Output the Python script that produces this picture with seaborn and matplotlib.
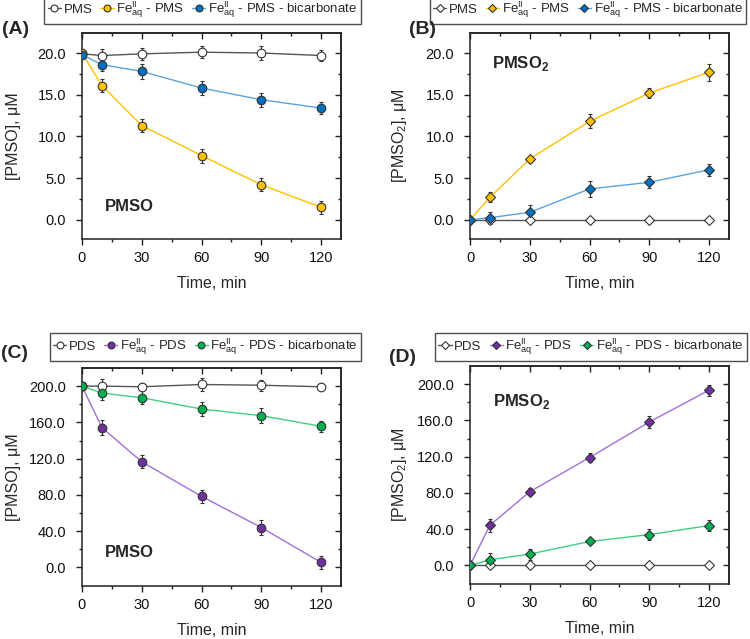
import matplotlib
matplotlib.use("Agg")
import matplotlib.pyplot as plt
import seaborn as sns
import numpy as np
import pandas as pd

# ---------------- data ----------------
time = [0, 10, 30, 60, 90, 120]

# Panel A: [PMSO] (PMS system)
pms_A = [19.9, 19.7, 19.9, 20.1, 20.0, 19.7]
pms_A_err = [0.4, 0.8, 0.7, 0.75, 0.8, 0.7]
fe_A = [20.0, 16.1, 11.3, 7.7, 4.2, 1.5]
fe_A_err = [0.4, 0.8, 0.8, 0.85, 0.8, 0.75]
bic_A = [19.8, 18.6, 17.8, 15.8, 14.4, 13.4]
bic_A_err = [0.4, 0.7, 0.9, 0.85, 0.85, 0.7]

# Panel B: [PMSO2] (PMS system)
pms_B = [0.0, 0.0, 0.0, 0.0, 0.0, 0.0]
pms_B_err = [0, 0, 0, 0, 0, 0]
fe_B = [0.0, 2.7, 7.3, 11.8, 15.2, 17.7]
fe_B_err = [0, 0.6, 0.4, 0.85, 0.6, 1.0]
bic_B = [0.0, 0.25, 0.9, 3.7, 4.5, 6.0]
bic_B_err = [0, 0.7, 0.9, 1.0, 0.7, 0.7]

# Panel C: [PMSO] (PDS system)
pds_C = [200.0, 200.0, 199.3, 201.8, 201.0, 199.3]
pds_C_err = [3, 8, 4, 7, 6, 4]
fe_C = [200.0, 154.2, 116.5, 78.4, 44.0, 5.5]
fe_C_err = [3, 8.5, 7, 7.5, 8, 7]
bic_C = [200.0, 192.3, 187.2, 174.7, 167.4, 155.7]
bic_C_err = [3, 8, 7, 8, 8, 6]

# Panel D: [PMSO2] (PDS system)
pds_D = [0.0, 0.0, 0.0, 0.0, 0.0, 0.0]
pds_D_err = [0, 0, 0, 0, 0, 0]
fe_D = [0.0, 44.3, 81.3, 119.0, 158.2, 193.4]
fe_D_err = [0, 7, 4, 5, 7, 6]
bic_D = [0.0, 6.2, 12.5, 26.4, 34.0, 44.0]
bic_D_err = [0, 7.5, 6, 3, 6, 6]

FE = r"Fe$^{\rm II}_{\rm aq}$"
labels_pms = ["PMS", FE + " - PMS", FE + " - PMS - bicarbonate"]
labels_pds = ["PDS", FE + " - PDS", FE + " - PDS - bicarbonate"]

# ---------------- style ----------------
sns.set_theme(style="ticks")
plt.rcParams["font.family"] = ["Liberation Sans", "DejaVu Sans"]
plt.rcParams["mathtext.fontset"] = "custom"
plt.rcParams["mathtext.rm"] = "Liberation Sans"
plt.rcParams["mathtext.bf"] = "Liberation Sans:bold"
plt.rcParams["axes.edgecolor"] = "#222222"
plt.rcParams["axes.linewidth"] = 1.1

W, H = 750, 639
fig = plt.figure(figsize=(7.5, 6.39), dpi=100)

def add_ax(l, r, t, b):
    return fig.add_axes([l / W, 1 - b / H, (r - l) / W, (b - t) / H])

axA = add_ax(82, 341, 33, 239)
axB = add_ax(470, 729, 33, 239)
axC = add_ax(82, 341, 368, 586)
axD = add_ax(470, 729, 366, 584)

c_white_line = "#555555"
pms_colors = [("white", c_white_line), ("#FFC000", "#FFC000"), ("#0070C0", "#5BA3E0")]
pds_colors = [("white", c_white_line), ("#7030A0", "#A070D8"), ("#00B050", "#40D080")]


def draw(ax, series, errs, labels, colors, marker, ms):
    for vals, err, lab, (fc, lc) in zip(series, errs, labels, colors):
        df = pd.DataFrame({"t": time, "v": vals})
        sns.lineplot(data=df, x="t", y="v", ax=ax, color=lc, linewidth=1.0,
                     marker=marker, markersize=ms, markerfacecolor=fc,
                     markeredgecolor="#333333", markeredgewidth=0.8,
                     label=lab, zorder=3, legend=False)
        ax.errorbar(time, vals, yerr=err, fmt="none", ecolor="#333333",
                    elinewidth=0.8, capsize=1.6, capthick=0.8, zorder=2.5)


draw(axA, [pms_A, fe_A, bic_A], [pms_A_err, fe_A_err, bic_A_err], labels_pms, pms_colors, "o", 6.2)
draw(axB, [pms_B, fe_B, bic_B], [pms_B_err, fe_B_err, bic_B_err], labels_pms, pms_colors, "D", 5.3)
draw(axC, [pds_C, fe_C, bic_C], [pds_C_err, fe_C_err, bic_C_err], labels_pds, pds_colors, "o", 6.2)
draw(axD, [pds_D, fe_D, bic_D], [pds_D_err, fe_D_err, bic_D_err], labels_pds, pds_colors, "D", 5.3)


def style(ax, ylim, major, ylabel, legend_center, panel, panel_xy, inner, inner_xy):
    ax.set_xlim(0, 130)
    yt = np.arange(0, 6) * major
    ax.set_xticks([0, 30, 60, 90, 120])
    ax.set_xticks([15, 45, 75, 105], minor=True)
    ax.set_yticks(yt)
    ax.set_yticklabels([f"{v:.1f}" for v in yt])
    ax.set_yticks(np.arange(0, 5) * major + major / 2, minor=True)
    ax.set_xticklabels(["0", "30", "60", "90", "120"])
    ax.set_ylim(*ylim)
    ax.tick_params(which="major", direction="out", length=4.5, width=1.0,
                   labelsize=10.5, color="#222222", labelcolor="#111111")
    ax.tick_params(axis="y", which="major", pad=7)
    ax.tick_params(axis="x", which="major", pad=4)
    ax.tick_params(which="minor", direction="out", length=2.5, width=1.0, color="#222222")
    # inward ticks on top and right
    sx = ax.secondary_xaxis("top")
    sx.set_xticks([0, 30, 60, 90, 120])
    sx.set_xticks([15, 45, 75, 105], minor=True)
    sx.tick_params(which="both", direction="in", labeltop=False, color="#222222", width=1.0)
    sx.tick_params(which="major", length=4.5)
    sx.tick_params(which="minor", length=2.5)
    sy = ax.secondary_yaxis("right")
    sy.set_yticks(yt)
    sy.set_yticks(np.arange(0, 5) * major + major / 2, minor=True)
    sy.tick_params(which="both", direction="in", labelright=False, color="#222222", width=1.0)
    sy.tick_params(which="major", length=4.5)
    sy.tick_params(which="minor", length=2.5)
    for s in ax.spines.values():
        s.set_visible(True)
    ax.set_xlabel("Time, min", fontsize=11.5, labelpad=8)
    ax.set_ylabel(ylabel, fontsize=11.5)
    ax.yaxis.set_label_coords(-0.235, 0.5)
    handles, labs = ax.get_legend_handles_labels()
    leg = ax.legend(handles, labs, loc="center",
                    bbox_to_anchor=(legend_center[0] / W, 1 - legend_center[1] / H),
                    bbox_transform=fig.transFigure, ncol=3, frameon=True, fancybox=False,
                    edgecolor="#222222", fontsize=9.5, handlelength=1.0, handletextpad=0.2,
                    columnspacing=0.6, borderpad=0.25, markerscale=0.8, borderaxespad=0)
    leg.get_frame().set_linewidth(1.0)
    fig.text(panel_xy[0] / W, 1 - panel_xy[1] / H, panel, fontsize=14, fontweight="bold",
             ha="left", va="center")
    ax.text(inner_xy[0], inner_xy[1], inner, fontsize=12, fontweight="bold",
            ha="left", va="center")


style(axA, (-2.3, 22.4), 5.0, "[PMSO], μM", (202.5, 10), "(A)", (2, 30), "PMSO", (11.5, 1.6))
style(axB, (-2.3, 22.4), 5.0, r"[PMSO$_2$], μM", (588, 10), "(B)", (409, 30), r"PMSO$_\mathbf{2}$", (11, 18.8))
style(axC, (-20.5, 220), 40.0, "[PMSO], μM", (205.5, 347), "(C)", (1, 353), "PMSO", (11.5, 16))
style(axD, (-20.5, 220), 40.0, r"[PMSO$_2$], μM", (591, 347), "(D)", (389, 357), r"PMSO$_\mathbf{2}$", (11.5, 181))

fig.savefig("out.png", dpi=100, facecolor="white")
